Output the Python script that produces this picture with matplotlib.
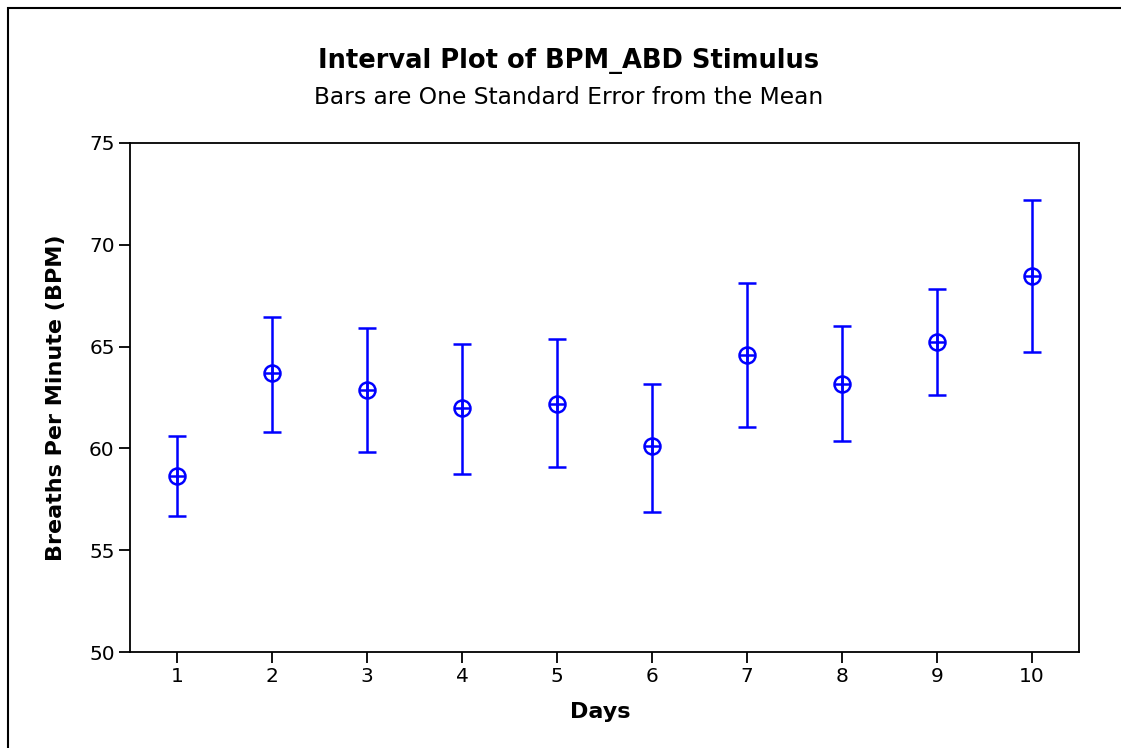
import numpy as np
import matplotlib.pyplot as plt
from matplotlib.patches import Rectangle

days = [1, 2, 3, 4, 5, 6, 7, 8, 9, 10]
means = [58.66, 63.72, 62.85, 62.0, 62.2, 60.1, 64.6, 63.15, 65.24, 68.48]
upper = [60.62, 66.47, 65.9, 65.15, 65.35, 63.15, 68.1, 66.0, 67.81, 72.2]
lower = [56.68, 60.8, 59.8, 58.75, 59.1, 56.9, 61.05, 60.35, 62.6, 64.73]

W, H = 1121, 748
fig = plt.figure(figsize=(W / 100, H / 100), dpi=100)
ax = fig.add_axes([130 / W, 1 - 652 / H, (1079 - 130) / W, (652 - 143) / H])

# outer frame of the graph window
fig.patches.append(Rectangle((8 / W, -0.1), 1.2, 1 - 8 / H + 0.1, transform=fig.transFigure,
                             fill=False, edgecolor='black', linewidth=1.5))

m = np.array(means)
err = [m - np.array(lower), np.array(upper) - m]
ax.errorbar(days, means, yerr=err, fmt='none', ecolor='blue', elinewidth=1.8,
            capsize=6.5, capthick=1.8)
ax.plot(days, means, 'o', color='blue', markerfacecolor='none', markersize=11.5, mew=1.8)
ax.plot(days, means, '+', color='blue', markersize=11.5, mew=1.8)

ax.set_xlim(0.5, 10.5)
ax.set_ylim(50, 75)
ax.set_xticks(days)
ax.set_yticks([50, 55, 60, 65, 70, 75])
ax.tick_params(labelsize=14.5, length=8, width=1.3, direction='out', pad=3)
for s in ax.spines.values():
    s.set_linewidth(1.3)

ax.set_xlabel('Days', fontsize=16, fontweight='bold', va='center')
ax.xaxis.set_label_coords((600 - 130) / (1079 - 130), -(712 - 652) / (652 - 143))
ax.set_ylabel('Breaths Per Minute (BPM)', fontsize=16, fontweight='bold', va='center')
ax.yaxis.set_label_coords(-(130 - 56) / (1079 - 130), 0.5)

fig.text(569 / W, 1 - 61 / H, 'Interval Plot of BPM_ABD Stimulus', ha='center', va='center',
         fontsize=18.5, fontweight='bold')
fig.text(569 / W, 1 - 97 / H, 'Bars are One Standard Error from the Mean', ha='center',
         va='center', fontsize=16.8)

fig.savefig('out.png', dpi=100)
